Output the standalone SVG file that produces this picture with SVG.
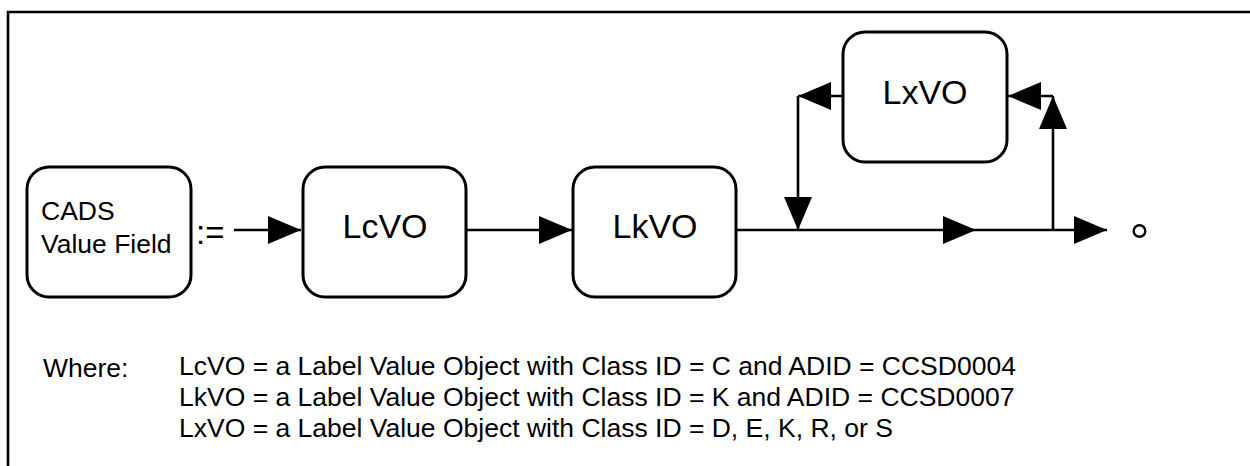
<svg xmlns="http://www.w3.org/2000/svg" width="1250" height="466" viewBox="0 0 1250 466">
  <style>
    .box { fill: #ffffff; stroke: #000000; stroke-width: 3; }
    .lbl { font-family: "Liberation Sans", Arial, sans-serif; fill: #000000; }
    .big { font-size: 34px; text-anchor: middle; }
    .small { font-size: 26.5px; }
    .conn { fill: none; stroke: #000000; stroke-width: 2.6; marker-end: url(#head); }
  </style>
  <defs>
    <marker id="head" markerUnits="userSpaceOnUse" markerWidth="34" markerHeight="30" refX="33" refY="14" orient="auto">
      <path d="M0,0 L33,14 L0,28 z" fill="#000000"/>
    </marker>
  </defs>
  <rect width="1250" height="466" fill="#ffffff"/>
  <path d="M8,466 L8,12 L1250,12" fill="none" stroke="#000000" stroke-width="2.6"/>

  <g id="connectors">
    <path class="conn" d="M234,230 L301,230"/>
    <path class="conn" d="M466,230 L572,230"/>
    <path class="conn" d="M736,230 L976,230"/>
    <path class="conn" d="M976,230 L1107,230"/>
    <path class="conn" d="M843,96 L798,96"/>
    <path class="conn" d="M798,96 L798,230"/>
    <path class="conn" d="M1053,230 L1053,96"/>
    <path class="conn" d="M1053,96 L1008,96"/>
    <circle cx="1139.5" cy="231" r="5.8" fill="none" stroke="#000000" stroke-width="2.4"/>
  </g>

  <g id="cads">
    <rect class="box" x="27" y="167" width="164" height="130" rx="22"/>
    <text class="lbl small" x="41" y="220">CADS</text>
    <text class="lbl small" x="41" y="253">Value Field</text>
  </g>
  <text class="lbl" x="196" y="244" font-size="33">:=</text>

  <g id="lcvo">
    <rect class="box" x="303" y="167" width="163" height="130" rx="22"/>
    <text class="lbl big" x="385" y="238">LcVO</text>
  </g>
  <g id="lkvo">
    <rect class="box" x="573" y="167" width="163" height="130" rx="22"/>
    <text class="lbl big" x="655" y="238">LkVO</text>
  </g>
  <g id="lxvo">
    <rect class="box" x="843" y="32" width="164" height="130" rx="22"/>
    <text class="lbl big" x="925" y="104">LxVO</text>
  </g>

  <g id="legend">
    <text class="lbl small" x="43" y="377">Where:</text>
    <text class="lbl small" x="179" y="375">LcVO = a Label Value Object with Class ID = C and ADID = CCSD0004</text>
    <text class="lbl small" x="179" y="406">LkVO = a Label Value Object with Class ID = K and ADID = CCSD0007</text>
    <text class="lbl small" x="179" y="437">LxVO = a Label Value Object with Class ID = D, E, K, R, or S</text>
  </g>
</svg>
